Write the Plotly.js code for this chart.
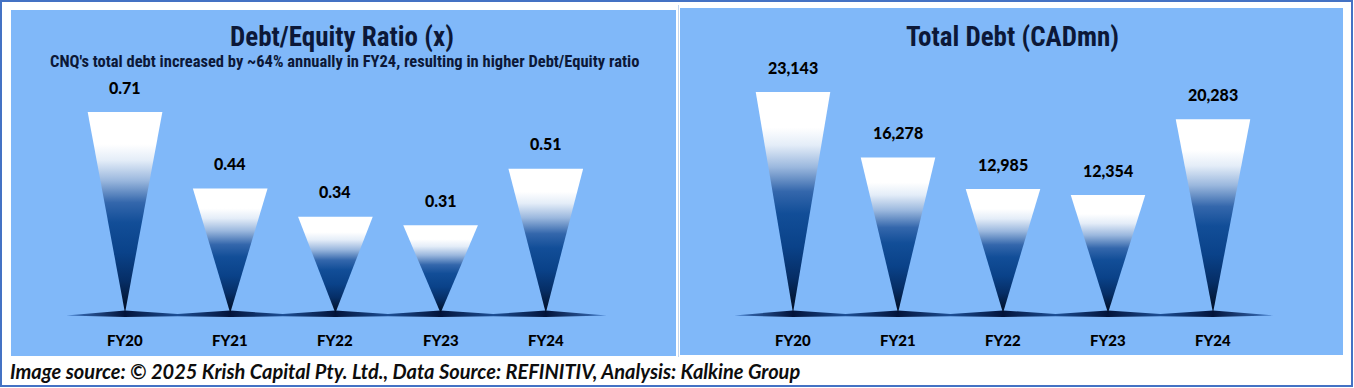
<!DOCTYPE html>
<html>
<head>
<meta charset="utf-8">
<script src="https://cdn.plot.ly/plotly-3.0.1.min.js"></script>
<style>
  html, body { margin: 0; padding: 0; background: #ffffff; }
  #chart { width: 1354px; height: 388px; }
</style>
</head>
<body>
<div id="chart"></div>
<script>
// ---- data ----
const categories = ['FY20', 'FY21', 'FY22', 'FY23', 'FY24'];
const debtEquity = [0.71, 0.44, 0.34, 0.31, 0.51];
const totalDebt = [23143, 16278, 12985, 12354, 20283];
const leftTitle = 'Debt/Equity Ratio (x)';
const leftSubtitle = "CNQ's total debt increased by ~64% annually in FY24, resulting in higher Debt/Equity ratio";
const rightTitle = 'Total Debt (CADmn)';
const footerText = 'Image source: © 2025 Krish Capital Pty. Ltd., Data Source: REFINITIV, Analysis: Kalkine Group';

// ---- layout helpers ----
const W = 1354, H = 388;
const px = x => x / W;
const py = y => 1 - y / H;

const panelBg = '#80b8f9';
const titleColor = '#0c1838';
const narrow = '"Roboto Condensed", "DejaVu Sans Condensed", sans-serif';
const calib = 'Lato, "Open Sans", sans-serif';

const barGradient = [
  [0.00, '#020c22'],
  [0.06, '#031838'],
  [0.16, '#062e66'],
  [0.30, '#0a4289'],
  [0.45, '#124e98'],
  [0.55, '#3467ac'],
  [0.66, '#9bb8de'],
  [0.76, '#e4edf8'],
  [0.84, '#ffffff'],
  [1.00, '#ffffff']
];

const panels = [
  { vals: debtEquity, xa: 'x', ya: 'y', xDom: [61.9, 608.9], yDom: [86.6, 327.2], yRange: [-0.05, 0.8],
    fmt: v => v.toFixed(2) },
  { vals: totalDebt, xa: 'x2', ya: 'y2', xDom: [730, 1276], yDom: [74.3, 327.3], yRange: [-1500, 25000],
    fmt: v => v.toLocaleString('en-US') }
];
const xRange = [-0.6, 4.6];
const halfW = 0.355;

const traces = [];
const annotations = [];

panels.forEach(p => {
  const unitsPerPx = (p.yRange[1] - p.yRange[0]) / (p.yDom[1] - p.yDom[0]);
  // baseline "wave" under the bars
  const n = categories.length;
  const topX = [], topY = [], botX = [], botY = [];
  topX.push(-0.56); topY.push(-2.5 * unitsPerPx);
  for (let i = 0; i < n; i++) {
    topX.push(i); topY.push(2.5 * unitsPerPx);
    if (i < n - 1) { topX.push(i + 0.5); topY.push(-1.0 * unitsPerPx); }
  }
  topX.push(n - 1 + 0.58); topY.push(-2.5 * unitsPerPx);
  for (let i = n - 1; i >= 0; i--) {
    botX.push(i); botY.push(-4.0 * unitsPerPx);
    if (i > 0) { botX.push(i - 0.5); botY.push(-3.2 * unitsPerPx); }
  }
  const wx = topX.concat(botX, [topX[0]]);
  const wy = topY.concat(botY, [topY[0]]);
  const xmin = -0.56, xmax = n - 1 + 0.58;
  const waveScale = [[0, '#3d78c8']];
  for (let i = 0; i < n; i++) {
    const c = (i - xmin) / (xmax - xmin);
    if (i > 0) waveScale.push([((i - 0.5) - xmin) / (xmax - xmin), '#1d4f96']);
    waveScale.push([c, '#02133a']);
  }
  waveScale.push([1, '#3d78c8']);
  traces.push({
    type: 'scatter', mode: 'lines', x: wx, y: wy, xaxis: p.xa, yaxis: p.ya,
    fill: 'toself', line: { width: 0 }, hoverinfo: 'skip', showlegend: false,
    fillcolor: '#0a2a60',
    fillgradient: { type: 'horizontal', colorscale: waveScale }
  });

  // inverted-triangle bars
  p.vals.forEach((v, i) => {
    traces.push({
      type: 'scatter', mode: 'lines',
      x: [i - halfW, i + halfW, i, i - halfW],
      y: [v, v, 0, v],
      xaxis: p.xa, yaxis: p.ya,
      fill: 'toself', line: { width: 0 }, hoverinfo: 'skip', showlegend: false,
      fillcolor: '#1a55a0',
      fillgradient: { type: 'vertical', colorscale: barGradient }
    });
    annotations.push({
      x: i, y: v, xref: p.xa, yref: p.ya, text: p.fmt(v), showarrow: false,
      xanchor: 'center', yanchor: 'middle',
      yshift: 25, font: { family: calib, size: 16, color: '#000000', weight: 900 }
    });
    annotations.push({
      x: i, y: py(340), xref: p.xa, yref: 'paper', text: categories[i], showarrow: false,
      xanchor: 'center', yanchor: 'middle',
      font: { family: calib, size: 15, color: '#000000', weight: 900 }
    });
  });
});

// titles
annotations.push({
  x: px(342), y: py(37), xref: 'paper', yref: 'paper', text: leftTitle, showarrow: false,
  xanchor: 'center', yanchor: 'middle',
  font: { family: narrow, size: 27, color: titleColor, weight: 'bold' }
});
annotations.push({
  x: px(344), y: py(62), xref: 'paper', yref: 'paper', text: leftSubtitle, showarrow: false,
  xanchor: 'center', yanchor: 'middle',
  font: { family: narrow, size: 16.5, color: titleColor, weight: 'bold' }
});
annotations.push({
  x: px(1012), y: py(37), xref: 'paper', yref: 'paper', text: rightTitle, showarrow: false,
  xanchor: 'center', yanchor: 'middle',
  font: { family: narrow, size: 27, color: titleColor, weight: 'bold' }
});
annotations.push({
  x: px(8), y: py(371), xref: 'paper', yref: 'paper', text: footerText, showarrow: false,
  xanchor: 'left', yanchor: 'middle',
  font: { family: calib, size: 20, color: '#0d0d0d', weight: 'bold', style: 'italic' }
});

const shapes = [
  // outer frame
  { type: 'rect', xref: 'paper', yref: 'paper', x0: px(1), x1: px(1352), y0: py(386), y1: py(1),
    line: { color: '#4472c4', width: 2 }, fillcolor: 'rgba(0,0,0,0)', layer: 'below' },
  // left panel
  { type: 'rect', xref: 'paper', yref: 'paper', x0: px(11), x1: px(676), y0: py(356), y1: py(10),
    line: { width: 0 }, fillcolor: panelBg, layer: 'below' },
  // right panel
  { type: 'rect', xref: 'paper', yref: 'paper', x0: px(680), x1: px(1343), y0: py(355), y1: py(8),
    line: { width: 0 }, fillcolor: panelBg, layer: 'below' },
  // thin divider between panels
  { type: 'line', xref: 'paper', yref: 'paper', x0: px(678.5), x1: px(678.5), y0: py(357), y1: py(5),
    line: { color: '#c4d6ee', width: 1 }, layer: 'below' }
];

const axisCommon = { range: xRange, showgrid: false, zeroline: false, showticklabels: false,
  ticks: '', showline: false, fixedrange: true };
const yCommon = { showgrid: false, zeroline: false, showticklabels: false, ticks: '',
  showline: false, fixedrange: true };

const layout = {
  width: W, height: H,
  margin: { l: 0, r: 0, t: 0, b: 0 },
  paper_bgcolor: '#ffffff', plot_bgcolor: 'rgba(0,0,0,0)',
  showlegend: false,
  xaxis: Object.assign({}, axisCommon, { domain: [px(panels[0].xDom[0]), px(panels[0].xDom[1])], anchor: 'y' }),
  yaxis: Object.assign({}, yCommon, { range: panels[0].yRange, domain: [py(panels[0].yDom[1]), py(panels[0].yDom[0])], anchor: 'x' }),
  xaxis2: Object.assign({}, axisCommon, { domain: [px(panels[1].xDom[0]), px(panels[1].xDom[1])], anchor: 'y2' }),
  yaxis2: Object.assign({}, yCommon, { range: panels[1].yRange, domain: [py(panels[1].yDom[1]), py(panels[1].yDom[0])], anchor: 'x2' }),
  shapes: shapes,
  annotations: annotations
};

Plotly.newPlot('chart', traces, layout, { displayModeBar: false, staticPlot: true });
</script>
</body>
</html>
